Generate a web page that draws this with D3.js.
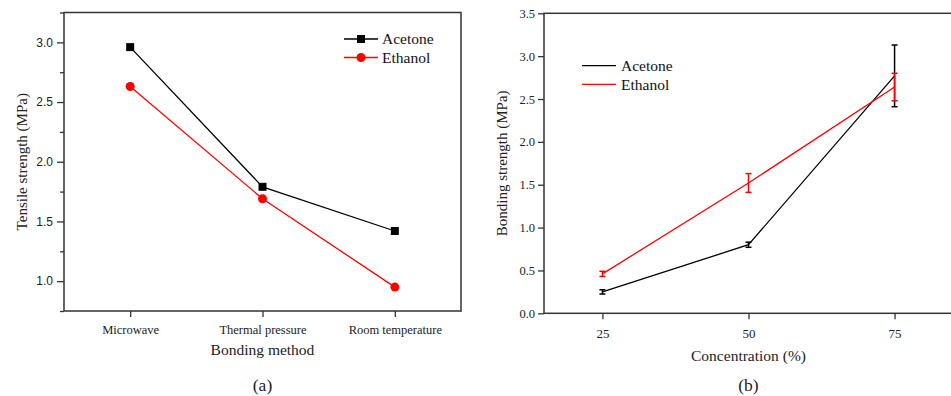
<!DOCTYPE html>
<html>
<head>
<meta charset="utf-8">
<script src="https://cdn.jsdelivr.net/npm/d3@7"></script>
<style>
  body { margin: 0; background: #fff; }
  svg { display: block; }
</style>
</head>
<body>
<div id="chart"></div>
<script>
// panel (a)
const methods = ['Microwave', 'Thermal pressure', 'Room temperature'];
const acetoneTensile = [2.96, 1.79, 1.42];
const ethanolTensile = [2.63, 1.69, 0.95];
const tensileTicks = [1.0, 1.5, 2.0, 2.5, 3.0];
const tensileMinor = [0.75, 1.25, 1.75, 2.25, 2.75, 3.25];

// panel (b)
const concentrations = [25, 50, 75];
const acetoneBond = [0.25, 0.80, 2.77];
const acetoneErr = [0.025, 0.03, 0.36];
const ethanolBond = [0.46, 1.52, 2.64];
const ethanolErr = [0.03, 0.11, 0.16];
const bondTicks = [0, 0.5, 1.0, 1.5, 2.0, 2.5, 3.0, 3.5];

const width = 951, height = 396;
const axisColor = '#333';
const SERIF = '"Liberation Serif", serif';
const SANS = '"Liberation Sans", sans-serif';

const svg = d3.select('#chart').append('svg')
  .attr('width', width)
  .attr('height', height);

// ---------- panel (a) ----------
const a = { left: 64, right: 461, top: 12.5, bottom: 311 };

const xA = d3.scalePoint()
  .domain(methods)
  .range([a.left, a.right])
  .padding(0.5);

const yA = d3.scaleLinear()
  .domain([0.75, 3.25])
  .range([a.bottom, a.top]);

const gA = svg.append('g');

// minor ticks
gA.append('g')
  .attr('transform', `translate(${a.left},0)`)
  .call(d3.axisLeft(yA).tickValues(tensileMinor).tickSize(4).tickFormat(''))
  .call(g => g.select('.domain').remove())
  .call(g => g.selectAll('line').attr('stroke', axisColor).attr('stroke-width', 1.3));

gA.append('g')
  .attr('transform', `translate(${a.left},0)`)
  .call(d3.axisLeft(yA).tickValues(tensileTicks).tickSize(7).tickPadding(4).tickFormat(d3.format('.1f')))
  .call(g => g.select('.domain').remove())
  .call(g => g.selectAll('line').attr('stroke', axisColor).attr('stroke-width', 1.3))
  .call(g => g.selectAll('text').style('font-family', SANS).style('font-size', '12px').attr('fill', '#222'));

gA.append('g')
  .attr('transform', `translate(0,${a.bottom})`)
  .call(d3.axisBottom(xA).tickSize(6).tickPadding(8))
  .call(g => g.select('.domain').remove())
  .call(g => g.selectAll('line').attr('stroke', axisColor).attr('stroke-width', 1.3))
  .call(g => g.selectAll('text').style('font-family', SERIF).style('font-size', '12.5px').attr('fill', '#222'));

gA.append('rect')
  .attr('x', a.left).attr('y', a.top)
  .attr('width', a.right - a.left).attr('height', a.bottom - a.top)
  .attr('fill', 'none').attr('stroke', axisColor).attr('stroke-width', 1.5);

const lineA = d3.line()
  .x((d, i) => xA(methods[i]))
  .y(d => yA(d));

gA.append('path').datum(acetoneTensile)
  .attr('d', lineA).attr('fill', 'none').attr('stroke', '#000').attr('stroke-width', 1.3);
gA.append('path').datum(ethanolTensile)
  .attr('d', lineA).attr('fill', 'none').attr('stroke', '#ff0000').attr('stroke-width', 1.3);

gA.selectAll('.sq').data(acetoneTensile).enter().append('rect')
  .attr('x', (d, i) => xA(methods[i]) - 4)
  .attr('y', d => yA(d) - 4)
  .attr('width', 8).attr('height', 8)
  .attr('fill', '#000');

gA.selectAll('.dot').data(ethanolTensile).enter().append('circle')
  .attr('cx', (d, i) => xA(methods[i]))
  .attr('cy', d => yA(d))
  .attr('r', 4.5)
  .attr('fill', '#ff0000');

function label(g, text, size) {
  return g.append('text').style('font-family', SERIF).style('font-size', size + 'px')
    .attr('fill', '#222').text(text);
}

// legend (a)
const legA = gA.append('g').attr('transform', 'translate(344,39)');
[['Acetone', '#000', 'square'], ['Ethanol', '#ff0000', 'circle']].forEach((s, i) => {
  const g = legA.append('g').attr('transform', `translate(0,${i * 18.5})`);
  g.append('line').attr('x1', 0).attr('x2', 34).attr('stroke', s[1]).attr('stroke-width', 1.3);
  if (s[2] === 'square') {
    g.append('rect').attr('x', 13).attr('y', -4).attr('width', 8).attr('height', 8).attr('fill', s[1]);
  } else {
    g.append('circle').attr('cx', 17).attr('r', 4.5).attr('fill', s[1]);
  }
  label(g, s[0], 15.5).attr('x', 38).attr('dy', '0.35em').attr('fill', '#111');
});

label(gA, 'Tensile strength (MPa)', 15)
  .attr('transform', `translate(22,${(a.top + a.bottom) / 2}) rotate(-90)`)
  .attr('text-anchor', 'middle').attr('dy', '0.35em');

label(gA, 'Bonding method', 15.5)
  .attr('x', (a.left + a.right) / 2).attr('y', 350).attr('dy', '0.35em')
  .attr('text-anchor', 'middle');

label(gA, '(a)', 17.5)
  .attr('x', (a.left + a.right) / 2).attr('y', 385).attr('dy', '0.35em')
  .attr('text-anchor', 'middle');

// ---------- panel (b) ----------
const b = { left: 544, right: 953, top: 13.3, bottom: 313.3 };

const xB = d3.scaleLinear()
  .domain([15, 85])
  .range([b.left, b.right]);

const yB = d3.scaleLinear()
  .domain([0, 3.5])
  .range([b.bottom, b.top]);

const gB = svg.append('g');

gB.append('g')
  .attr('transform', `translate(${b.left},0)`)
  .call(d3.axisLeft(yB).tickValues(bondTicks).tickSize(6).tickPadding(3).tickFormat(d3.format('.1f')))
  .call(g => g.select('.domain').remove())
  .call(g => g.selectAll('line').attr('stroke', axisColor).attr('stroke-width', 1.3))
  .call(g => g.selectAll('text').style('font-family', SERIF).style('font-size', '12.5px').attr('fill', '#222'));

gB.append('g')
  .attr('transform', `translate(0,${b.bottom})`)
  .call(d3.axisBottom(xB).tickValues(concentrations).tickSize(6).tickPadding(9))
  .call(g => g.select('.domain').remove())
  .call(g => g.selectAll('line').attr('stroke', axisColor).attr('stroke-width', 1.3))
  .call(g => g.selectAll('text').style('font-family', SERIF).style('font-size', '13px').attr('fill', '#222'));

gB.append('rect')
  .attr('x', b.left).attr('y', b.top)
  .attr('width', b.right - b.left).attr('height', b.bottom - b.top)
  .attr('fill', 'none').attr('stroke', axisColor).attr('stroke-width', 1.5);

const lineB = d3.line()
  .x((d, i) => xB(concentrations[i]))
  .y(d => yB(d));

function drawSeries(values, errs, color) {
  gB.append('path').datum(values)
    .attr('d', lineB).attr('fill', 'none').attr('stroke', color).attr('stroke-width', 1.3);
  const eb = gB.append('g').attr('stroke', color).attr('stroke-width', 1.5);
  values.forEach((v, i) => {
    const x = xB(concentrations[i]);
    const y0 = yB(v - errs[i]), y1 = yB(v + errs[i]);
    eb.append('line').attr('x1', x).attr('x2', x).attr('y1', y0).attr('y2', y1);
    eb.append('line').attr('x1', x - 3).attr('x2', x + 3).attr('y1', y0).attr('y2', y0);
    eb.append('line').attr('x1', x - 3).attr('x2', x + 3).attr('y1', y1).attr('y2', y1);
  });
}
drawSeries(acetoneBond, acetoneErr, '#000');
drawSeries(ethanolBond, ethanolErr, '#ff0000');

const legB = gB.append('g').attr('transform', 'translate(582,65.7)');
[['Acetone', '#000'], ['Ethanol', '#ff0000']].forEach((s, i) => {
  const g = legB.append('g').attr('transform', `translate(0,${i * 18.6})`);
  g.append('line').attr('x1', 0).attr('x2', 34).attr('stroke', s[1]).attr('stroke-width', 1.3);
  label(g, s[0], 15.5).attr('x', 39).attr('dy', '0.35em').attr('fill', '#111');
});

label(gB, 'Bonding strength (MPa)', 15)
  .attr('transform', `translate(502,${(b.top + b.bottom) / 2}) rotate(-90)`)
  .attr('text-anchor', 'middle').attr('dy', '0.35em');

label(gB, 'Concentration (%)', 15.5)
  .attr('x', xB(50)).attr('y', 356).attr('dy', '0.35em')
  .attr('text-anchor', 'middle');

label(gB, '(b)', 17.5)
  .attr('x', xB(50)).attr('y', 385).attr('dy', '0.35em')
  .attr('text-anchor', 'middle');
</script>
</body>
</html>
